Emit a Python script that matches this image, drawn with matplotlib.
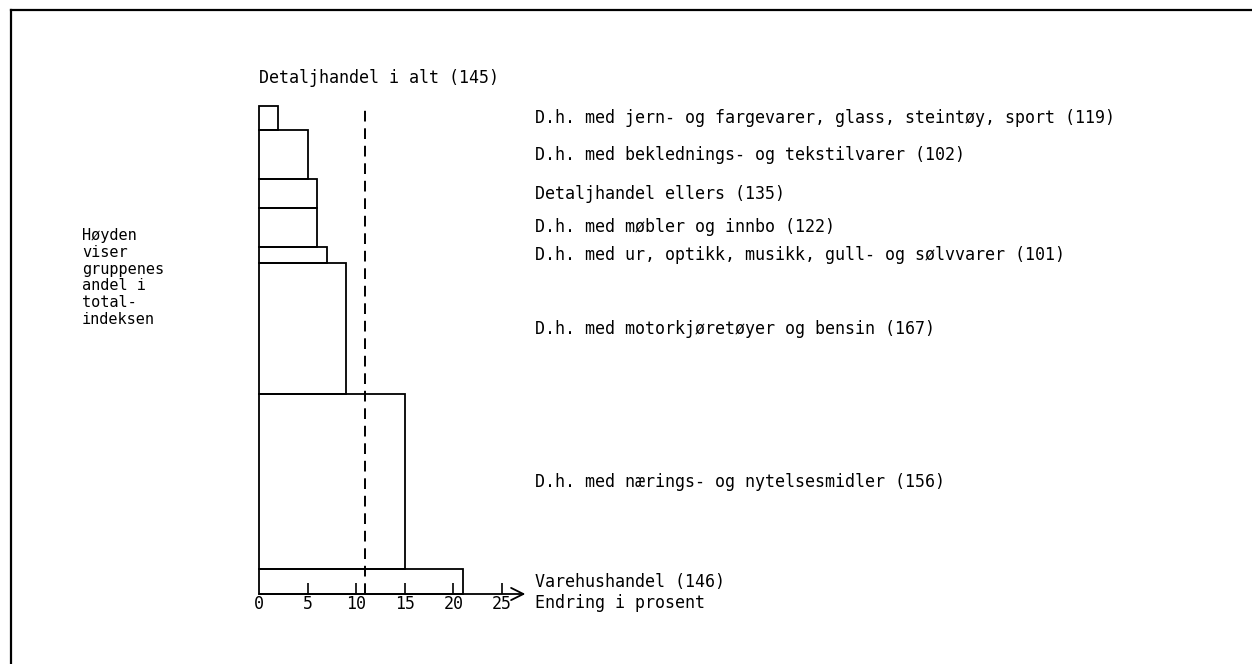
import matplotlib
matplotlib.use("Agg")
import matplotlib.pyplot as plt
from matplotlib.lines import Line2D

# Grupper fra toppen og nedover
grupper = [
    "D.h. med jern- og fargevarer, glass, steintøy, sport (119)",
    "D.h. med beklednings- og tekstilvarer (102)",
    "Detaljhandel ellers (135)",
    "D.h. med møbler og innbo (122)",
    "D.h. med ur, optikk, musikk, gull- og sølvvarer (101)",
    "D.h. med motorkjøretøyer og bensin (167)",
    "D.h. med nærings- og nytelsesmidler (156)",
    "Varehushandel (146)",
]
# Endring i prosent (bredde) og andel i totalindeksen (høyde)
endring = [2, 5, 6, 6, 7, 9, 15, 21]
andel = [5.0, 10.0, 5.9, 7.9, 3.3, 27.0, 35.8, 5.1]
total_endring = 10.9
total_tekst = "Detaljhandel i alt (145)"
xticks = [0, 5, 10, 15, 20, 25]

W, H = 1252, 664
fig = plt.figure(figsize=(W / 100, H / 100), dpi=100)
font = "DejaVu Sans Mono"

# akse: x=0 ved 259 px, 9.72 px per enhet; y fra 594 px (0) til 106 px (100)
x0, px_per = 259, 9.72
xmax = 27.4
ax = fig.add_axes([x0 / W, (H - 594) / H, xmax * px_per / W, 488 / H])
ax.set_xlim(0, xmax)
ax.set_ylim(0, 100)
for s in ax.spines.values():
    s.set_visible(False)

# stablede rektangler nedenfra
bunn = 0
for navn, e, a in zip(grupper[::-1], endring[::-1], andel[::-1]):
    ax.barh(bunn, e, height=a, left=0, align="edge", fill=False,
            edgecolor="black", linewidth=1.3, clip_on=False)
    midt = bunn + a / 2
    ax.text(28.4, midt, navn, fontsize=12, family=font, va="center",
            ha="left", clip_on=False)
    bunn += a

ax.plot([total_endring, total_endring], [0, 100], color="black",
        linewidth=1.4, dashes=(5.5, 3.5), clip_on=False)

ax.annotate("", xy=(xmax, 0), xytext=(0, 0),
            arrowprops=dict(arrowstyle="->", color="black", lw=1.3,
                            mutation_scale=22, shrinkA=0, shrinkB=0),
            annotation_clip=False)

ax.set_yticks([])
ax.set_xticks(xticks)
ax.set_xticklabels([str(t) for t in xticks], family=font, fontsize=12)
ax.tick_params(axis="x", direction="in", length=8, width=1.2, pad=1)
ax.xaxis.get_major_ticks()[0].tick1line.set_visible(False)

ax.text(28.4, 0, "Endring i prosent", fontsize=12, family=font,
        va="top", ha="left", clip_on=False)
ax.text(0, 100 + 28 / 4.88, total_tekst, fontsize=12, family=font,
        va="center", ha="left", clip_on=False)

fig.text(82 / W, 1 - 228 / H, "Høyden\nviser\ngruppenes\nandel i\ntotal-\nindeksen",
         fontsize=11, family=font, va="top", ha="left", linespacing=1.15)

# ramme
fig.add_artist(Line2D([11 / W, 1], [1 - 10 / H, 1 - 10 / H], color="black",
                      linewidth=1.6, transform=fig.transFigure))
fig.add_artist(Line2D([11 / W, 11 / W], [1 - 10 / H, 0], color="black",
                      linewidth=1.6, transform=fig.transFigure))

fig.savefig("out.png", dpi=100, facecolor="white")
